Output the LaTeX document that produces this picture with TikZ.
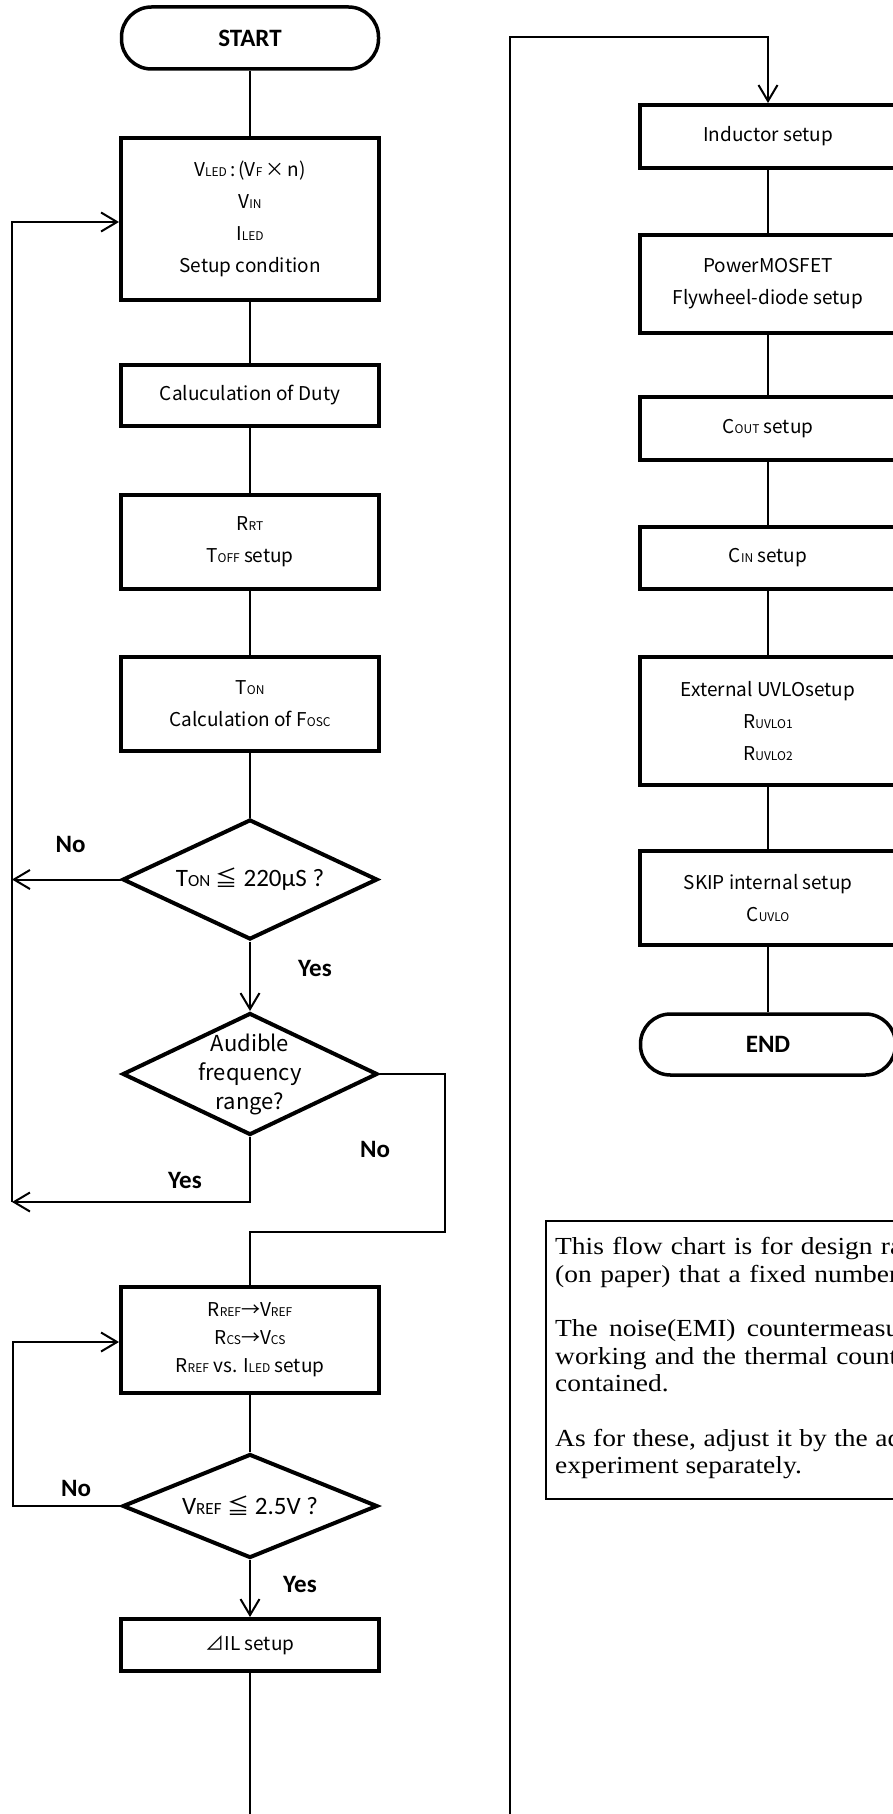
\documentclass[tikz,border=0pt]{standalone}
\usepackage{fontspec}
\setmainfont{Noto Sans CJK JP}
\newfontfamily\calf{Carlito}
\newfontfamily\jpf{Noto Sans CJK JP}
\newfontfamily\notef[FakeStretch=1.12]{Liberation Serif}
\usetikzlibrary{arrows.meta,shapes.geometric,calc}
\newcommand\ssub[1]{{\fontsize{12}{12}\selectfont #1}}
\newcommand\dsub[1]{{\fontsize{17}{17}\selectfont #1}}
\newcommand\myleq{{\jpf\fontsize{22}{22}\selectfont ≦}}
\newcommand\jline[2]{\makebox[#1][s]{#2}}
\begin{document}
\begin{tikzpicture}[x=1pt,y=-1pt,
  box/.style={draw, line width=4pt, minimum width=258pt, inner sep=0pt, align=center, font=\jpf\fontsize{19}{32}\selectfont},
  term/.style={draw, line width=3.5pt, rounded corners=30pt, minimum width=257pt, minimum height=62pt, inner sep=0pt, font=\calf\bfseries\fontsize{25}{25}\selectfont},
  decision/.style={draw, diamond, line width=4pt, minimum width=255pt, inner sep=0pt},
  dtext/.style={font=\calf\fontsize{25}{25}\selectfont, inner sep=0pt},
  dtextb/.style={font=\jpf\fontsize{22}{29}\selectfont, inner sep=0pt, align=center},
  conn/.style={line width=2pt},
  arr/.style={line width=2pt, -{Straight Barb[length=16pt,width=19pt]}},
  lbl/.style={font=\calf\bfseries\fontsize{25}{25}\selectfont, inner sep=0pt},
]
\fill[white] (0,0) rectangle (893,1814);
\useasboundingbox (0,0) rectangle (893,1814);

% left column
\node[term] (start) at (250,38) {START};
\node[box, minimum height=162pt] (b1) at (250,219) {V\ssub{LED}\,:\,(V\ssub{F}\,×\,n)\\V\ssub{IN}\\I\ssub{LED}\\Setup condition};
\node[box, minimum height=61pt] (b2) at (250,395.5) {Caluculation of Duty};
\node[box, minimum height=94pt] (b3) at (250,542) {R\ssub{RT}\\T\ssub{OFF} setup};
\node[box, minimum height=94pt] (b4) at (250,704) {T\ssub{ON}\\Calculation of F\ssub{OSC}};
\node[decision, minimum height=120pt, label={[dtext]center:T\dsub{ON} \myleq{} 220μS ?}] (d1) at (250,879.5) {};
\node[decision, minimum height=122pt, label={[dtextb]center:{Audible\\frequency\\range?}}] (d2) at (250,1074) {};
\node[box, minimum height=106pt, font=\jpf\fontsize{19}{28}\selectfont] (b5) at (250,1340) {R\ssub{REF}→V\ssub{REF}\\R\ssub{CS}→V\ssub{CS}\\R\ssub{REF} vs. I\ssub{LED} setup};
\node[decision, minimum height=104pt, label={[dtext]center:V\dsub{REF} \myleq{} 2.5V ?}] (d3) at (250,1506) {};
\node[box, minimum height=52pt] (b6) at (250,1645) {⊿IL setup};

% right column
\node[box, minimum width=256pt, minimum height=63pt] (ind) at (768,136.5) {Inductor setup};
\node[box, minimum width=256pt, minimum height=98pt] (pm) at (768,284) {PowerMOSFET\\Flywheel-diode setup};
\node[box, minimum width=256pt, minimum height=63pt] (cout) at (768,428.5) {C\ssub{OUT} setup};
\node[box, minimum width=256pt, minimum height=62pt] (cin) at (768,558) {C\ssub{IN} setup};
\node[box, minimum width=256pt, minimum height=128pt] (uvlo) at (768,721) {External UVLOsetup\\R\ssub{UVLO1}\\R\ssub{UVLO2}};
\node[box, minimum width=256pt, minimum height=94pt] (skip) at (768,898) {SKIP internal setup\\C\ssub{UVLO}};
\node[term, minimum width=255pt, minimum height=61pt] (end) at (768,1044.5) {END};

% labels
\node[lbl] (no1) at (70.5,844) {No};
\node[lbl] (yes1) at (315,968.5) {Yes};
\node[lbl] (yes2) at (185,1180) {Yes};
\node[lbl] (no2) at (375,1149.5) {No};
\node[lbl] (no3) at (76,1488) {No};
\node[lbl] (yes3) at (300,1584) {Yes};

% note
\node[draw, line width=1.5pt, minimum width=400pt, minimum height=278pt, anchor=north west, inner sep=0pt] (note) at (545,1220) {};
\node[anchor=north west, inner sep=0pt, align=left, font=\notef\fontsize{24.5}{27.3}\selectfont] (notetext) at (555,1237.5) {\jline{347pt}{This flow chart is for design ra}\\\jline{343pt}{(on paper) that a fixed number}\\[27.3pt]\jline{344pt}{The noise(EMI) countermeasu}\\\jline{342pt}{working and the thermal count}\\contained.\\[27.3pt]\jline{346pt}{As for these, adjust it by the ad}\\experiment separately.};

% coordinates
\coordinate (lb) at (12,1202);
\coordinate (lt) at (12,222);
\coordinate (nr) at (445,1232);
\coordinate (lr) at (13,1342);
\coordinate (bot) at (250,1830);
\coordinate (rb) at (510,1830);
\coordinate (rt) at (510,37);

% connectors left
\draw[conn] (start.south) -- (b1.north);
\draw[conn] (b1.south) -- (b2.north);
\draw[conn] (b2.south) -- (b3.north);
\draw[conn] (b3.south) -- (b4.north);
\draw[conn] (b4.south) -- (d1.north);
\draw[arr] (d1.south) -- (d2.north);
\draw[arr] (d1.west) -- (d1.west -| lb);
\draw[arr] (d2.south) |- (lb);
\draw[arr] (lb) -- (lt) -- (lt -| b1.west);
\draw[conn] (d2.east) -| (nr) -| (b5.north);
\draw[conn] (b5.south) -- (d3.north);
\draw[arr] (d3.west) -| (lr) -- (lr -| b5.west);
\draw[arr] (d3.south) -- (b6.north);
\draw[conn] (b6.south) -- (bot);

% connectors right
\draw[arr] (rb) -- (rt) -| (ind.north);
\draw[conn] (ind.south) -- (pm.north);
\draw[conn] (pm.south) -- (cout.north);
\draw[conn] (cout.south) -- (cin.north);
\draw[conn] (cin.south) -- (uvlo.north);
\draw[conn] (uvlo.south) -- (skip.north);
\draw[conn] (skip.south) -- (end.north);
\end{tikzpicture}
\end{document}
